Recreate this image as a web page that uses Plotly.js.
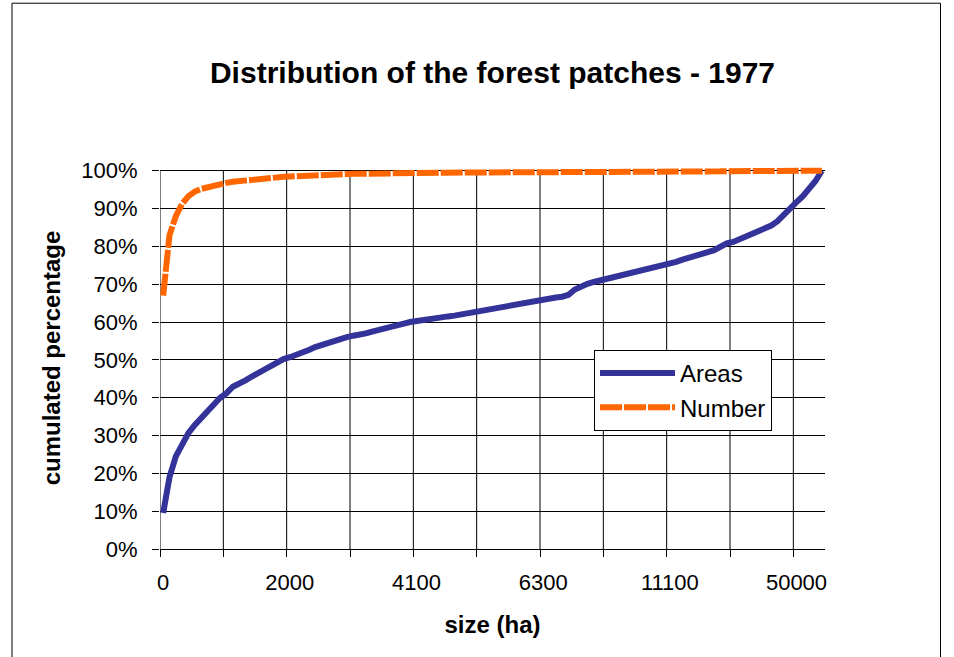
<!DOCTYPE html>
<html><head><meta charset="utf-8">
<script src="https://cdn.plot.ly/plotly-3.0.1.min.js"></script>
<style>html,body{margin:0;padding:0;background:#fff;}#chart{width:954px;height:657px;}</style>
</head><body><div id="chart"></div>
<script>
// tick labels (patch size, ha) shown every 20th category
const sizeLabels = ["0", "2000", "4100", "6300", "11100", "50000"];
const labelIndex = [0, 20, 40, 60, 80, 100];

// cumulated percentage of area
const areas = [
  9.5, 19, 24.5, 28, 30.7, 32.8, 34.8, 36.5, 38.2, 40,
  41.2, 42.9, 43.6, 44.6, 45.6, 46.6, 47.5, 48.5, 49.5, 50.2,
  50.7, 51.2, 51.8, 52.6, 53.4, 54, 54.5, 54.9, 55.4, 56,
  56.4, 56.6, 57, 57.5, 58, 58.3, 58.6, 59.1, 59.6, 60,
  60.3, 60.6, 60.8, 61, 61.2, 61.5, 61.7, 62, 62.5, 62.9,
  63.2, 63.5, 63.8, 64.1, 64.4, 64.7, 64.9, 65.1, 65.4, 65.8,
  66.1, 66.3, 66.5, 66.7, 67.2, 68.6, 69.5, 70.1, 70.6, 71,
  71.4, 71.8, 72.2, 72.6, 73, 73.3, 73.7, 74.1, 74.5, 74.9,
  75.4, 75.9, 76.5, 77.1, 77.5, 78, 78.5, 79, 80, 80.8,
  81.2, 81.9, 82.6, 83.3, 84.1, 84.8, 85.5, 86.7, 88.2, 90,
  91.7, 93.3, 95.2, 97.3, 100
];

// cumulated percentage of patch count
const number = [
  67, 83, 88, 91.3, 93.3, 94.5, 95.2, 95.7, 96.1, 96.5,
  96.8, 97.1, 97.3, 97.5, 97.7, 97.9, 98.0, 98.2, 98.3, 98.4,
  98.5, 98.6, 98.7, 98.75, 98.8, 98.9, 98.95, 99.0, 99.05, 99.1,
  99.2, 99.2, 99.25, 99.3, 99.3, 99.35, 99.4, 99.4, 99.45, 99.45,
  99.5, 99.5, 99.5, 99.5, 99.5, 99.5, 99.5, 99.55, 99.55, 99.55,
  99.55, 99.6, 99.6, 99.6, 99.6, 99.6, 99.6, 99.6, 99.7, 99.75,
  99.75, 99.75, 99.75, 99.7, 99.6, 99.6, 99.6, 99.65, 99.7, 99.8,
  99.8, 99.8, 99.8, 99.8, 99.8, 99.8, 99.8, 99.85, 99.85, 99.85,
  99.85, 99.85, 99.85, 99.85, 99.85, 99.85, 99.85, 99.85, 99.85, 99.9,
  99.9, 99.9, 99.9, 99.9, 99.9, 99.9, 99.9, 99.95, 99.95, 99.95,
  99.95, 99.95, 99.95, 99.95, 100
];

const idx = areas.map((_, i) => i);
const nCat = areas.length;

// grid/tick marks every 10 categories, between categories
const gridPos = [];
for (let k = 0; k * 10 < nCat; k++) gridPos.push(k * 10 - 0.5);

const shapes = gridPos.map(g => ({
  type: 'line', xref: 'x', yref: 'y', x0: g, x1: g, y0: 0, y1: 100,
  line: {color: '#000', width: 1}, layer: 'below'
}));
// outer chart frame
shapes.push({
  type: 'rect', xref: 'paper', yref: 'paper',
  x0: (12 - 160) / 665, x1: (940.5 - 160) / 665,
  y0: -1, y1: (549 - 3.5) / 381.8,
  line: {color: '#000', width: 1}, fillcolor: 'rgba(0,0,0,0)', layer: 'above'
});

const font = 'Liberation Sans, Arial, sans-serif';

const traces = [
  {x: idx, y: areas, name: 'Areas', type: 'scatter', mode: 'lines', legendgroup: 'a',
   line: {color: '#333399', width: 6}},
  {x: idx, y: number, name: 'Number', type: 'scatter', mode: 'lines', legendgroup: 'b',
   line: {color: '#FF6600', width: 6, dash: '22px,2px'}}
];

const layout = {
  width: 954, height: 657,
  margin: {l: 160, r: 129.3, t: 167.2, b: 108, pad: 0},
  paper_bgcolor: '#fff', plot_bgcolor: '#fff',
  font: {family: font, color: '#000', size: 22},
  showlegend: true,
  title: {text: 'Distribution of the forest patches - 1977',
    font: {family: font, size: 30, weight: 'bold', color: '#000'},
    x: 0.5, xref: 'paper', y: 1 - 72 / 657, yref: 'container', yanchor: 'middle'},
  xaxis: {
    range: [-0.5, nCat - 0.5], tickmode: 'array', tickvals: labelIndex, ticktext: sizeLabels,
    ticks: '', showgrid: false, zeroline: false, showline: true, linecolor: '#000', linewidth: 1,
    tickfont: {size: 22}, ticklabelstandoff: 14,
    minor: {tickmode: 'array', tickvals: gridPos, ticks: 'outside', ticklen: 7, tickcolor: '#000', tickwidth: 1, showgrid: false},
    title: {text: 'size (ha)', font: {size: 24, weight: 'bold'}, standoff: 21},
    automargin: false, fixedrange: true
  },
  yaxis: {
    range: [0, 101], tickmode: 'linear', tick0: 0, dtick: 10, ticksuffix: '%',
    ticks: 'outside', ticklen: 7, tickcolor: '#000', showline: false, zeroline: false,
    showgrid: true, gridcolor: '#000', gridwidth: 1,
    tickfont: {size: 22}, ticklabelstandoff: 10,
    title: {text: 'cumulated percentage', font: {size: 24, weight: 'bold'}, standoff: 13},
    automargin: false, fixedrange: true
  },
  legend: {
    x: (594 - 160) / 665, y: (549 - 350) / 381.8, xanchor: 'left', yanchor: 'top',
    bgcolor: '#fff', bordercolor: '#000', borderwidth: 1,
    font: {size: 24}, itemwidth: 75, tracegroupgap: 0, traceorder: 'grouped'
  },
  shapes: shapes
};

Plotly.newPlot('chart', traces, layout, {displayModeBar: false, staticPlot: true});
</script></body></html>
